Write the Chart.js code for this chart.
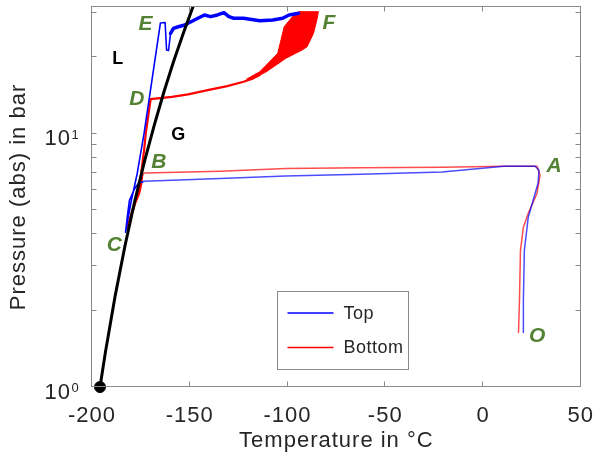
<!DOCTYPE html>
<html>
<head>
<meta charset="utf-8">
<script src="https://cdn.jsdelivr.net/npm/chart.js@4.4.0/dist/chart.umd.min.js"></script>
<style>
  html, body { margin: 0; padding: 0; background: #fff; }
  #wrap { width: 610px; height: 456px; position: relative; }
</style>
</head>
<body>
<div id="wrap"><canvas id="chart"></canvas></div>
<script>
// Saturation curve (black) and the boiling point at 1 bar
const satT = [-195.9, -193.15, -188.15, -183.15, -178.15, -173.15, -168.15, -163.15, -158.15, -153.15, -148.15, -147.0];
const satP = [1.0, 1.37, 2.29, 3.60, 5.41, 7.78, 10.8, 14.67, 19.4, 25.1, 32.0, 33.9];
const boilT = [-195.9];
const boilP = [1.0];

// Top sensor: O -> A -> B
const topLowT = [20.65, 20.65, 21.15, 23.15, 28.15, 28.65, 26.65, 10.65, -5.85, -20.85, -62.35, -100.85, -134.35, -173.35, -174.35];
const topLowP = [1.64, 2.20, 3.46, 4.68, 6.37, 7.17, 7.44, 7.44, 7.24, 7.05, 6.92, 6.81, 6.65, 6.49, 6.43];
// Top sensor: B -> C -> E
const topMidT = [-174.35, -175.85, -178.35, -180.85, -181.85, -182.85, -179.85, -176.85, -173.35, -170.85, -168.35, -165.0, -162.6, -161.85, -160.85, -159.85];
const topMidP = [6.43, 6.43, 6.03, 5.46, 4.76, 4.08, 5.46, 6.98, 10.04, 13.56, 18.31, 27.35, 27.47, 21.38, 21.28, 24.85];
// Top sensor: E -> F
const topUpT = [-159.85, -158.35, -155.85, -152.5, -150.85, -145.85, -142.5, -139.35, -135.85, -132.5, -130.0, -127.5, -122.5, -114.2, -107.5, -102.5, -99.2, -94.35];
const topUpP = [24.85, 26.05, 26.43, 26.85, 27.27, 28.54, 29.41, 28.96, 29.41, 30.03, 28.96, 28.54, 28.54, 27.92, 28.10, 28.54, 29.41, 29.87];

// Bottom sensor: O -> A -> B
const botLowT = [18.15, 18.65, 19.15, 20.65, 23.15, 27.65, 29.15, 27.65, 10.65, -20.85, -62.35, -100.85, -134.35, -173.35, -174.35];
const botLowP = [1.64, 2.20, 3.46, 4.27, 4.85, 5.82, 6.85, 7.44, 7.44, 7.37, 7.33, 7.29, 7.11, 7.00, 6.79];
// Bottom sensor: B -> C -> D -> start of F band
const botHighT = [-174.35, -174.85, -175.85, -179.35, -181.85, -178.35, -175.35, -173.35, -172.5, -170.0, -159.2, -150.85, -140.85, -130.85, -122.5, -117.5, -114.2];
const botHighP = [6.79, 6.32, 5.82, 4.99, 4.27, 5.17, 6.49, 8.61, 10.02, 13.69, 13.98, 14.29, 14.86, 15.41, 16.03, 16.53, 17.03];
// Bottom sensor: envelope of the oscillating part near F
const botBandT = [-120.85, -114.2, -109.2, -105.0, -103.35, -101.7, -97.5, -94.2, -84.2, -85.0, -86.7, -88.35, -90.0, -92.5, -95.85, -100.85, -105.85, -110.85, -115.85, -120.85];
const botBandP = [16.43, 17.55, 19.22, 20.75, 23.42, 26.43, 28.96, 30.30, 30.30, 28.10, 24.89, 23.42, 22.03, 21.38, 20.75, 19.83, 18.65, 17.55, 16.77, 16.28];

// Axes
const xTicks = [-200, -150, -100, -50, 0, 50];
const yTicks = [1, 2, 3, 4, 5, 6, 7, 8, 9, 10, 20, 30];
const yLabelTicks = [1, 10];

// Legend
const seriesNames = ['Top', 'Bottom'];
const seriesColors = ['#0000ff', '#ff0000'];

// State letters and phase letters
const stateNames = ['A', 'B', 'C', 'D', 'E', 'F', 'O'];
const stateT = [36.4, -165.85, -188.6, -177.1, -172.6, -78.85, 27.65];
const stateP = [7.41, 7.68, 3.64, 13.63, 26.97, 27.22, 1.59];
const phaseNames = ['L', 'G'];
const phaseT = [-186.85, -155.85];
const phaseP = [19.70, 9.87];

const FONT = "'Liberation Sans', Arial, Helvetica, sans-serif";
const TEXT_COLOR = '#262626';
const FRAME_COLOR = '#8a8a8a';
const GREEN = '#548235';
const TICK_LEN = 5;

function toPoints(ts, ps) {
  return ts.map((t, i) => ({ x: t, y: ps[i] }));
}

// slightly wider text, like the original export
const spacingPlugin = {
  id: 'spacing',
  beforeUpdate(chart) { chart.ctx.letterSpacing = '1px'; },
  beforeDraw(chart) { chart.ctx.letterSpacing = '1px'; }
};

// box, inward ticks on all four sides, and 10^n labels
const framePlugin = {
  id: 'frame',
  afterDatasetsDraw(chart) {
    const { ctx, chartArea: a, scales: { x, y } } = chart;
    ctx.save();
    ctx.strokeStyle = FRAME_COLOR;
    ctx.lineWidth = 1;
    const l = Math.round(a.left) - 0.5, r = Math.round(a.right) - 0.5;
    const t = Math.round(a.top) - 0.5, b = Math.round(a.bottom) - 0.5;
    ctx.strokeRect(l, t, r - l, b - t);
    ctx.beginPath();
    xTicks.forEach(v => {
      const px = Math.round(x.getPixelForValue(v)) - 0.5;
      ctx.moveTo(px, b); ctx.lineTo(px, b - TICK_LEN);
      ctx.moveTo(px, t); ctx.lineTo(px, t + TICK_LEN);
    });
    yTicks.forEach(v => {
      const py = Math.round(y.getPixelForValue(v)) - 0.5;
      ctx.moveTo(l, py); ctx.lineTo(l + TICK_LEN, py);
      ctx.moveTo(r, py); ctx.lineTo(r - TICK_LEN, py);
    });
    ctx.stroke();

    ctx.fillStyle = TEXT_COLOR;
    ctx.letterSpacing = '1px';
    yLabelTicks.forEach(v => {
      const py = y.getPixelForValue(v);
      ctx.font = '22px ' + FONT;
      ctx.textAlign = 'right';
      ctx.textBaseline = 'alphabetic';
      ctx.fillText('10', a.left - 21, py + 11.7);
      ctx.font = '13px ' + FONT;
      ctx.textAlign = 'left';
      ctx.fillText(String(Math.round(Math.log10(v))), a.left - 20.5, py + 5);
    });
    ctx.restore();
  }
};

// green state letters and black phase letters, placed in data units
const lettersPlugin = {
  id: 'letters',
  afterDatasetsDraw(chart) {
    const { ctx, scales: { x, y } } = chart;
    ctx.save();
    ctx.letterSpacing = '0px';
    ctx.textAlign = 'center';
    ctx.textBaseline = 'middle';
    ctx.font = 'italic bold 21px ' + FONT;
    ctx.fillStyle = GREEN;
    stateNames.forEach((s, i) => {
      ctx.fillText(s, x.getPixelForValue(stateT[i]), y.getPixelForValue(stateP[i]));
    });
    ctx.font = 'bold 18px ' + FONT;
    ctx.fillStyle = '#000';
    phaseNames.forEach((s, i) => {
      ctx.fillText(s, x.getPixelForValue(phaseT[i]), y.getPixelForValue(phaseP[i]));
    });
    ctx.restore();
  }
};

// legend box inside the plot, lower middle
const legendPlugin = {
  id: 'legendBox',
  afterDraw(chart) {
    const { ctx, chartArea: a } = chart;
    const bx = Math.round(a.left) + 185.5, by = Math.round(a.top) + 284.5;
    const w = 131, h = 78;
    ctx.save();
    ctx.fillStyle = '#fff';
    ctx.fillRect(bx, by, w, h);
    ctx.strokeStyle = FRAME_COLOR;
    ctx.lineWidth = 1;
    ctx.strokeRect(bx, by, w, h);
    ctx.font = '18px ' + FONT;
    ctx.letterSpacing = '0.5px';
    ctx.textAlign = 'left';
    ctx.textBaseline = 'middle';
    seriesNames.forEach((name, i) => {
      const ly = by + 21.5 + i * 34.5;
      ctx.strokeStyle = seriesColors[i];
      ctx.lineWidth = 1.6;
      ctx.beginPath();
      ctx.moveTo(bx + 10, ly);
      ctx.lineTo(bx + 56, ly);
      ctx.stroke();
      ctx.fillStyle = TEXT_COLOR;
      ctx.fillText(name, bx + 66, ly + 1);
    });
    ctx.restore();
  }
};

const ctx = document.getElementById('chart').getContext('2d');
const chart = new Chart(ctx, {
  type: 'line',
  data: {
    datasets: [
      { label: 'Saturation', data: toPoints(satT, satP), borderColor: '#000', borderWidth: 3 },
      { label: 'Boiling point', data: toPoints(boilT, boilP), showLine: false, pointRadius: 5.5,
        pointBackgroundColor: '#000', pointBorderColor: '#000', clip: false },
      { label: 'Top E-F', data: toPoints(topUpT, topUpP), borderColor: '#0000ff', borderWidth: 3.5 },
      { label: 'Top B-E', data: toPoints(topMidT, topMidP), borderColor: '#0000ff', borderWidth: 1.6 },
      { label: 'Top', data: toPoints(topLowT, topLowP), borderColor: 'rgba(0,0,255,0.7)', borderWidth: 1.5 },
      { label: 'Bottom B-D', data: toPoints(botHighT, botHighP), borderColor: '#ff0000', borderWidth: 2.2 },
      { label: 'Bottom', data: toPoints(botLowT, botLowP), borderColor: 'rgba(255,0,0,0.7)', borderWidth: 1.5 },
      { label: 'Bottom band', data: toPoints(botBandT, botBandP), borderColor: '#ff0000',
        backgroundColor: '#ff0000', borderWidth: 1, fill: 'shape' }
    ]
  },
  options: {
    responsive: true,
    maintainAspectRatio: false,
    devicePixelRatio: 1,
    animation: false,
    events: [],
    layout: { padding: { top: 7, right: 18, left: 0, bottom: 0 } },
    elements: {
      point: { radius: 0 },
      line: { tension: 0, borderJoinStyle: 'round', borderCapStyle: 'round' }
    },
    scales: {
      x: {
        type: 'linear',
        min: -200,
        max: 50,
        ticks: { stepSize: 50, padding: 16, maxRotation: 0, color: TEXT_COLOR, font: { family: FONT, size: 22 } },
        grid: { display: false, drawTicks: false },
        border: { display: false },
        title: { display: true, text: 'Temperature in °C', color: TEXT_COLOR,
                 font: { family: FONT, size: 22 }, padding: { top: 0, bottom: 2 } },
        afterFit: s => { s.height = 69; }
      },
      y: {
        type: 'logarithmic',
        min: 1,
        max: 31.62,
        ticks: { display: false },
        grid: { display: false, drawTicks: false },
        border: { display: false },
        title: { display: true, text: 'Pressure (abs) in bar', color: TEXT_COLOR,
                 font: { family: FONT, size: 22 }, padding: { top: 6, bottom: 0 } },
        afterFit: s => { s.width = 92; }
      }
    },
    plugins: {
      legend: { display: false },
      tooltip: { enabled: false }
    }
  },
  plugins: [spacingPlugin, framePlugin, lettersPlugin, legendPlugin]
});
</script>
</body>
</html>
